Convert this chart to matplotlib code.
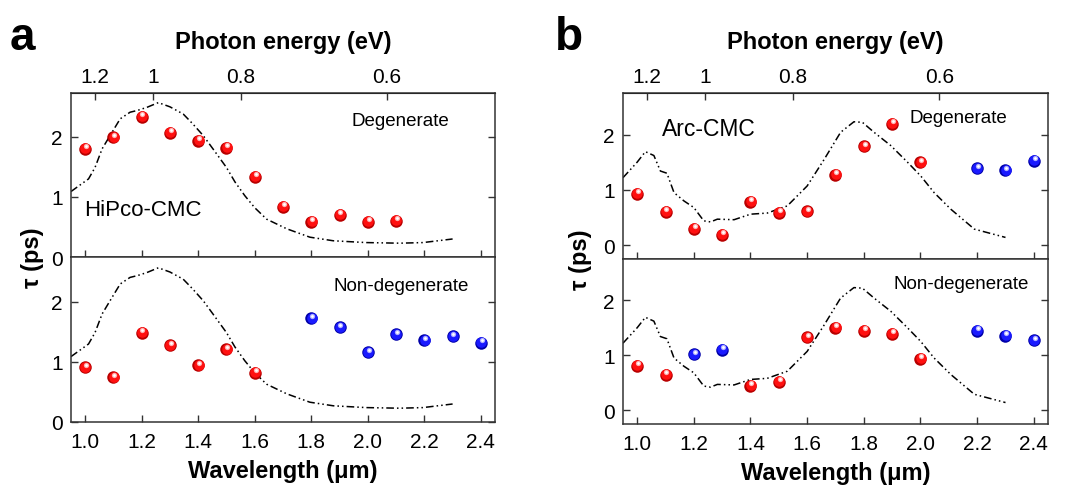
import numpy as np
import matplotlib
matplotlib.use("Agg")
import matplotlib.pyplot as plt
import matplotlib.transforms as mtransforms

plt.rcParams['font.family'] = ['Liberation Sans', 'DejaVu Sans']

# ---- data ----
# HiPco-CMC absorption (dash-dot curve, arb. units on tau scale)
hip_abs_wl = [0.95, 1.012, 1.035, 1.06, 1.088, 1.124, 1.159, 1.185, 1.218, 1.259, 1.30,
              1.347, 1.38, 1.418, 1.46, 1.50, 1.53, 1.565, 1.60, 1.642, 1.713, 1.795,
              1.878, 1.995, 2.113, 2.195, 2.30]
hip_abs = [1.09, 1.30, 1.49, 1.80, 2.02, 2.30, 2.41, 2.44, 2.49, 2.57, 2.50,
           2.38, 2.22, 2.02, 1.75, 1.49, 1.25, 1.02, 0.82, 0.63, 0.47, 0.33,
           0.27, 0.24, 0.23, 0.24, 0.30]

hip_deg_wl = [1.0, 1.1, 1.2, 1.3, 1.4, 1.5, 1.6, 1.7, 1.8, 1.9, 2.0, 2.1]
hip_deg_tau = [1.80, 1.99, 2.33, 2.07, 1.93, 1.82, 1.34, 0.84, 0.59, 0.70, 0.59, 0.60]

hip_nd_red_wl = [1.0, 1.1, 1.2, 1.3, 1.4, 1.5, 1.6]
hip_nd_red_tau = [0.91, 0.745, 1.49, 1.28, 0.945, 1.21, 0.82]
hip_nd_blue_wl = [1.8, 1.9, 2.0, 2.1, 2.2, 2.3, 2.4]
hip_nd_blue_tau = [1.73, 1.58, 1.16, 1.46, 1.36, 1.43, 1.32]

# Arc-CMC absorption
arc_abs_wl = [0.95, 1.0, 1.029, 1.059, 1.082, 1.105, 1.13, 1.165, 1.2, 1.235, 1.259,
              1.283, 1.342, 1.4, 1.459, 1.53, 1.60, 1.66, 1.718, 1.765, 1.795,
              1.836, 1.895, 1.954, 2.001, 2.048, 2.107, 2.19, 2.30]
arc_abs = [1.22, 1.50, 1.69, 1.62, 1.34, 1.30, 0.95, 0.80, 0.68, 0.44, 0.42,
           0.47, 0.46, 0.56, 0.58, 0.71, 1.07, 1.55, 2.04, 2.23, 2.22,
           2.04, 1.80, 1.50, 1.25, 0.95, 0.65, 0.29, 0.14]

arc_deg_red_wl = [1.0, 1.1, 1.2, 1.3, 1.4, 1.5, 1.6, 1.7, 1.8, 1.9, 2.0]
arc_deg_red_tau = [0.93, 0.60, 0.30, 0.19, 0.78, 0.59, 0.61, 1.27, 1.79, 2.19, 1.50]
arc_deg_blue_wl = [2.2, 2.3, 2.4]
arc_deg_blue_tau = [1.39, 1.35, 1.53]

arc_nd_red_wl = [1.0, 1.1, 1.4, 1.5, 1.6, 1.7, 1.8, 1.9, 2.0]
arc_nd_red_tau = [0.81, 0.65, 0.45, 0.52, 1.33, 1.50, 1.45, 1.39, 0.94]
arc_nd_blue_wl = [1.2, 1.3, 2.2, 2.3, 2.4]
arc_nd_blue_tau = [1.02, 1.10, 1.45, 1.35, 1.27]

energy_ticks = [1.2, 1.0, 0.8, 0.6]
energy_labels = ['1.2', '1', '0.8', '0.6']
wl_ticks = [1.0, 1.2, 1.4, 1.6, 1.8, 2.0, 2.2, 2.4]

W, H = 1084, 489
fig = plt.figure(figsize=(W / 100, H / 100), dpi=100)


def box(l, t, r, b):
    return [l / W, (H - b) / H, (r - l) / W, (b - t) / H]


def balls(ax, x, y, kind):
    if kind == 'red':
        rim, body, shine = '#b80000', '#ff1010', '#ffb0b0'
    else:
        rim, body, shine = '#0000a8', '#1a1aff', '#b0b0ff'
    up1 = mtransforms.offset_copy(ax.transData, fig=fig, x=0.3, y=0.6, units='dots')
    up2 = mtransforms.offset_copy(ax.transData, fig=fig, x=0.8, y=2.6, units='dots')
    ax.plot(x, y, 'o', ms=9.0, mfc=rim, mec='none', zorder=3)
    ax.plot(x, y, 'o', ms=7.6, mfc=body, mec='none', zorder=4, transform=up1)
    ax.plot(x, y, 'o', ms=3.8, mfc=shine, mec='none', zorder=5, transform=up2)
    ax.plot(x, y, 'o', ms=2.0, mfc='white', mec='none', zorder=6, transform=up2)


def style(ax, ylim, top_panel):
    ax.set_xlim(0.95, 2.45)
    ax.set_ylim(*ylim)
    ax.set_yticks([0, 1, 2])
    ax.set_xticks(wl_ticks)
    ax.tick_params(direction='in', length=5, width=1, labelsize=15, color='#333333')
    ax.tick_params(axis='y', left=True, right=True, pad=6)
    ax.tick_params(axis='x', top=False, bottom=True, pad=7)
    for s in ax.spines.values():
        s.set_linewidth(1.1)
        s.set_color('#333333')
    if top_panel:
        ax.tick_params(axis='x', labelbottom=False)
        sec = ax.secondary_xaxis('top', functions=(lambda x: 1.24 / x, lambda e: 1.24 / e))
        sec.set_xticks(energy_ticks)
        sec.set_xticklabels(energy_labels)
        sec.tick_params(direction='in', length=5, width=1, labelsize=15, pad=5, color='#333333')
        sec.set_xlabel('Photon energy (eV)', fontsize=17, fontweight='bold', labelpad=14)
    else:
        ax.set_xlabel('Wavelength (\u03bcm)', fontsize=17, fontweight='bold', labelpad=6)


dash = (0, (5, 2, 1, 2, 1, 2))

# panel a
a1 = fig.add_axes(box(71, 94, 495, 258))
a2 = fig.add_axes(box(71, 258, 495, 423))
for ax in (a1, a2):
    ax.plot(hip_abs_wl, hip_abs, color='black', lw=1.1, linestyle=dash, zorder=2)
balls(a1, hip_deg_wl, hip_deg_tau, 'red')
balls(a2, hip_nd_red_wl, hip_nd_red_tau, 'red')
balls(a2, hip_nd_blue_wl, hip_nd_blue_tau, 'blue')
style(a1, (0, 2.73), True)
style(a2, (0, 2.75), False)
a1.text(0.662, 0.83, 'Degenerate', transform=a1.transAxes, fontsize=13.5, va='center')
a1.text(0.03, 0.29, 'HiPco-CMC', transform=a1.transAxes, fontsize=16, va='center')
a2.text(0.619, 0.83, 'Non-degenerate', transform=a2.transAxes, fontsize=13.5, va='center')

# panel b
b1 = fig.add_axes(box(623, 94, 1048, 260))
b2 = fig.add_axes(box(623, 260, 1048, 425))
for ax in (b1, b2):
    ax.plot(arc_abs_wl, arc_abs, color='black', lw=1.1, linestyle=dash, zorder=2)
balls(b1, arc_deg_red_wl, arc_deg_red_tau, 'red')
balls(b1, arc_deg_blue_wl, arc_deg_blue_tau, 'blue')
balls(b2, arc_nd_red_wl, arc_nd_red_tau, 'red')
balls(b2, arc_nd_blue_wl, arc_nd_blue_tau, 'blue')
style(b1, (-0.25, 2.75), True)
style(b2, (-0.25, 2.75), False)
b1.text(0.092, 0.787, 'Arc-CMC', transform=b1.transAxes, fontsize=16.5, va='center')
b1.text(0.674, 0.85, 'Degenerate', transform=b1.transAxes, fontsize=13.5, va='center')
b2.text(0.637, 0.853, 'Non-degenerate', transform=b2.transAxes, fontsize=13.5, va='center')

# shared y labels and panel letters
fig.text(33 / W, 1 - 258 / H, '\u03c4 (ps)', rotation=90, fontsize=17, fontweight='bold',
         ha='center', va='center')
fig.text(581 / W, 1 - 260 / H, '\u03c4 (ps)', rotation=90, fontsize=17, fontweight='bold',
         ha='center', va='center')
fig.text(10 / W, 1 - 50 / H, 'a', fontsize=33, fontweight='bold', va='baseline')
fig.text(555 / W, 1 - 50 / H, 'b', fontsize=33, fontweight='bold', va='baseline')

fig.savefig('out.png', dpi=100)
